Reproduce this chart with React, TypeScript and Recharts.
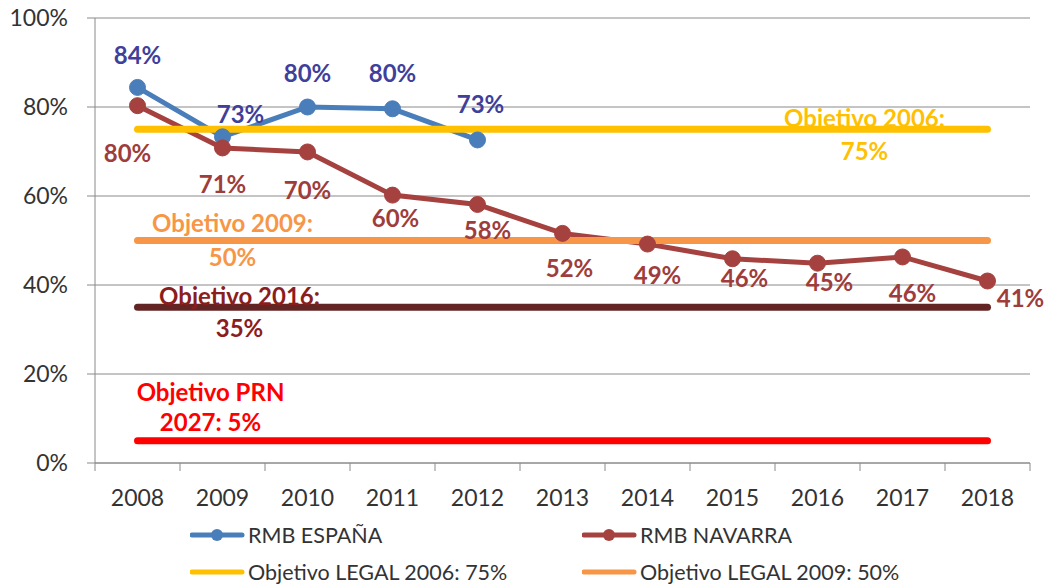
import { CartesianGrid, Line, LineChart, XAxis, YAxis } from "recharts";

const years = ["2008", "2009", "2010", "2011", "2012", "2013", "2014", "2015", "2016", "2017", "2018"];
const rmbEspana = [84.4, 73.3, 80, 79.6, 72.6];
const rmbNavarra = [80.3, 70.8, 69.9, 60.2, 58.1, 51.6, 49.2, 45.9, 44.9, 46.3, 40.9];
const objetivo2006 = 75;
const objetivo2009 = 50;
const objetivo2016 = 35;
const objetivoPRN = 5;
const yTicks = [0, 20, 40, 60, 80, 100];

const data = years.map((year, i) => ({
  year,
  espana: i < rmbEspana.length ? rmbEspana[i] : null,
  navarra: rmbNavarra[i],
  obj2006: objetivo2006,
  obj2009: objetivo2009,
  obj2016: objetivo2016,
  objPRN: objetivoPRN
}));

const W = 1048;
const H = 585;
const M = { top: 18, right: 18, left: 0, bottom: 82 };
const Y_AXIS_W = 95;
const PLOT_BOTTOM = H - M.bottom - 40;
const HALF_BAND = (W - M.right - Y_AXIS_W) / years.length / 2;

const FONT = "Lato, 'Noto Sans', sans-serif";
const BLUE = "#4A7EBB";
const RED = "#A5423F";
const AXIS = "#8a8a8a";
const LABEL_SIZE = 24;

// label nudges relative to each point (dx, dy)
const espanaNudge = [[0, -33], [18, -23], [0, -35], [0, -36], [3, -36]];
const navarraNudge = [
  [-10, 47], [0, 36], [0, 38], [3, 22], [10, 25], [7, 34],
  [10, 30], [12, 19], [12, 18], [10, 36], [33, 17]
];

function YearTick(props: any) {
  const { x, y, payload, index } = props;
  const isLast = index === years.length - 1;
  return (
    <g>
      <line x1={x - HALF_BAND} x2={x - HALF_BAND} y1={PLOT_BOTTOM} y2={PLOT_BOTTOM + 8} stroke={AXIS} />
      {isLast && (
        <line x1={x + HALF_BAND} x2={x + HALF_BAND} y1={PLOT_BOTTOM} y2={PLOT_BOTTOM + 8} stroke={AXIS} />
      )}
      <text x={x} y={y} textAnchor="middle" dominantBaseline="central" fill="#333" fontSize={23} fontFamily={FONT}>
        {payload.value}
      </text>
    </g>
  );
}

function pointLabel(nudges: number[][], color: string) {
  return (props: any) => {
    const { x, y, value, index } = props;
    if (value == null || x == null) return <g key={`e-${index}`} />;
    const [dx, dy] = nudges[index] || [0, -30];
    return (
      <text
        key={`l-${index}`}
        x={x + dx}
        y={y + dy}
        textAnchor="middle"
        dominantBaseline="central"
        fill={color}
        fontSize={LABEL_SIZE}
        fontWeight={700}
        fontFamily={FONT}
      >
        {`${Math.round(value)}%`}
      </text>
    );
  };
}

function targetLabel(at: number, lines: string[], dx: number, dy: number[], color: string) {
  return (props: any) => {
    const { x, y, index } = props;
    if (index !== at) return <g key={`t-${index}`} />;
    return (
      <g key={`t-${index}`}>
        {lines.map((t, k) => (
          <text
            key={k}
            x={x + dx}
            y={y + dy[k]}
            textAnchor="middle"
            dominantBaseline="central"
            fill={color}
            fontSize={LABEL_SIZE}
            fontWeight={700}
            fontFamily={FONT}
          >
            {t}
          </text>
        ))}
      </g>
    );
  };
}

const legendItems = [
  { name: "RMB ESPAÑA", color: BLUE, marker: true },
  { name: "RMB NAVARRA", color: RED, marker: true },
  { name: "Objetivo LEGAL 2006: 75%", color: "#FFC000", marker: false },
  { name: "Objetivo LEGAL 2009: 50%", color: "#F79646", marker: false }
];

export default function App() {
  return (
    <div style={{ position: "fixed", left: 0, top: 0, width: W, height: H, background: "#fff", fontFamily: FONT }}>
      <LineChart width={W} height={H} data={data} margin={M}>
        <CartesianGrid vertical={false} stroke={AXIS} strokeWidth={1} />
        <XAxis
          dataKey="year"
          height={40}
          stroke={AXIS}
          tickLine={false}
          tickMargin={28}
          tick={<YearTick />}
          interval={0}
          padding={{ left: HALF_BAND, right: HALF_BAND }}
        />
        <YAxis
          width={Y_AXIS_W}
          domain={[0, 100]}
          ticks={yTicks}
          tickFormatter={(v) => `${v}%`}
          stroke={AXIS}
          tickSize={8}
          tickMargin={19}
          tick={{ fill: "#333", fontSize: 23, fontFamily: FONT }}
          interval={0}
        />
        <Line
          dataKey="espana"
          stroke={BLUE}
          strokeWidth={5}
          dot={{ r: 8, fill: BLUE, stroke: BLUE, strokeWidth: 1 }}
          isAnimationActive={false}
          label={pointLabel(espanaNudge, "#3F3F9C")}
        />
        <Line
          dataKey="navarra"
          stroke={RED}
          strokeWidth={5}
          dot={{ r: 8, fill: RED, stroke: RED, strokeWidth: 1 }}
          isAnimationActive={false}
          label={pointLabel(navarraNudge, "#9E3D3B")}
        />
        <Line
          dataKey="obj2006"
          stroke="#FFC000"
          strokeWidth={7}
          strokeLinecap="round"
          dot={false}
          isAnimationActive={false}
          label={targetLabel(8, ["Objetivo 2006:", "75%"], 47, [-12, 21], "#FFC000")}
        />
        <Line
          dataKey="obj2009"
          stroke="#F79646"
          strokeWidth={7}
          strokeLinecap="round"
          dot={false}
          isAnimationActive={false}
          label={targetLabel(1, ["Objetivo 2009:", "50%"], 10, [-18, 16], "#F79646")}
        />
        <Line
          dataKey="obj2016"
          stroke="#632523"
          strokeWidth={7}
          strokeLinecap="round"
          dot={false}
          isAnimationActive={false}
          label={targetLabel(1, ["Objetivo 2016:", "35%"], 17, [-12, 20], "#8C1D1D")}
        />
        <Line
          dataKey="objPRN"
          stroke="#FF0000"
          strokeWidth={7}
          strokeLinecap="round"
          dot={false}
          isAnimationActive={false}
          label={targetLabel(1, ["Objetivo PRN", "2027: 5%"], -12, [-49, -19], "#FF0000")}
        />
      </LineChart>
      {legendItems.map((item, i) => {
        const col = i % 2;
        const row = Math.floor(i / 2);
        return (
          <div
            key={item.name}
            style={{
              position: "absolute",
              left: col === 0 ? 190 : 582,
              top: 535 + row * 37 - 13,
              height: 26,
              display: "flex",
              alignItems: "center",
              fontSize: 21.5,
              color: "#333",
              whiteSpace: "nowrap"
            }}
          >
            <svg width={56} height={26} style={{ marginRight: 2 }}>
              <line x1={2} x2={52} y1={13} y2={13} stroke={item.color} strokeWidth={5} strokeLinecap="round" />
              {item.marker && <circle cx={27} cy={13} r={6} fill={item.color} />}
            </svg>
            <span>{item.name}</span>
          </div>
        );
      })}
    </div>
  );
}
